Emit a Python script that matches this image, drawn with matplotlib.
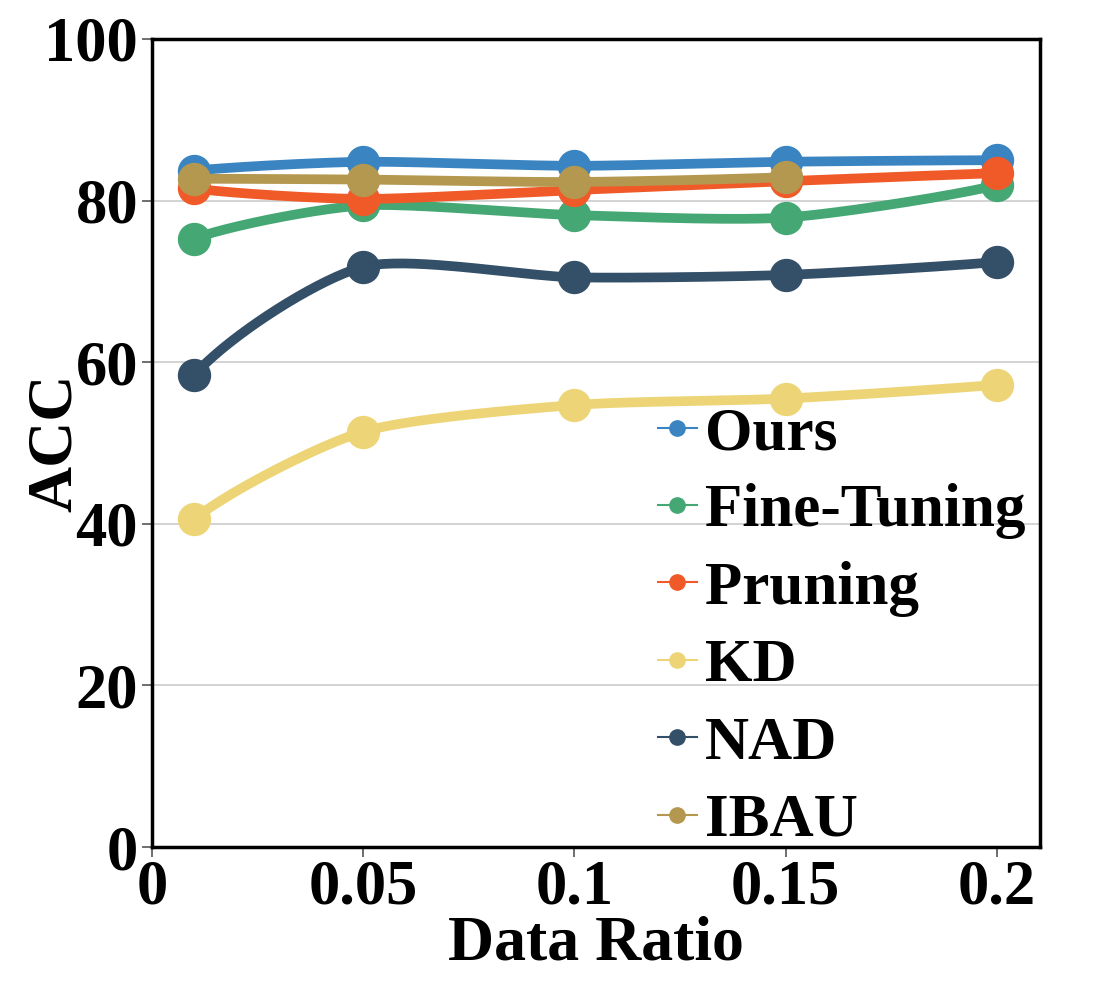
import numpy as np
import matplotlib
matplotlib.use("Agg")
import matplotlib.pyplot as plt

# -------------------------------------------------------------------------
# DATA
# -------------------------------------------------------------------------
ratios = [0.01, 0.05, 0.1, 0.15, 0.2]

acc_ours = [83.7, 84.8, 84.3, 84.8, 85.0]
acc_finetune = [75.3, 79.4, 78.2, 77.9, 81.9]
acc_pruning = [81.5, 80.2, 81.3, 82.4, 83.4]
acc_kd = [40.6, 51.4, 54.7, 55.5, 57.2]
acc_nad = [58.4, 71.8, 70.5, 70.8, 72.4]
acc_ibau = [82.7, 82.6, 82.3, 82.9]

methods = ["Ours", "Fine-Tuning", "Pruning", "KD", "NAD", "IBAU"]
series = [acc_ours, acc_finetune, acc_pruning, acc_kd, acc_nad, acc_ibau]
colors = ["#3a84c1", "#45a874", "#f05a28", "#edd577", "#344f68", "#b5984f"]

x_ticks = [0, 0.05, 0.1, 0.15, 0.2]
x_ticklabels = ["0", "0.05", "0.1", "0.15", "0.2"]
y_ticks = [0, 20, 40, 60, 80, 100]


def smooth(xs, ys, n=40, tension=0.35):
    """Spline through the points, drawing only (quadratic-like end segments)."""
    p = np.column_stack([np.asarray(xs, float), np.asarray(ys, float)])
    k = len(p)
    m = np.zeros_like(p)
    for i in range(1, k - 1):
        m[i] = tension * (p[i + 1] - p[i - 1])
    m[0] = 2 * (p[1] - p[0]) * (2 * tension) - m[1] if k > 2 else p[1] - p[0]
    m[-1] = 2 * (p[-1] - p[-2]) * (2 * tension) - m[-2] if k > 2 else p[1] - p[0]
    t = np.linspace(0, 1, n)[:, None]
    h00 = 2 * t**3 - 3 * t**2 + 1
    h10 = t**3 - 2 * t**2 + t
    h01 = -2 * t**3 + 3 * t**2
    h11 = t**3 - t**2
    segs = [h00 * p[i] + h10 * m[i] + h01 * p[i + 1] + h11 * m[i + 1]
            for i in range(k - 1)]
    c = np.concatenate(segs)
    return c[:, 0], c[:, 1]


plt.rcParams["font.family"] = ["Liberation Serif", "DejaVu Serif"]
plt.rcParams["font.weight"] = "bold"

fig = plt.figure(figsize=(10.93, 9.84), dpi=100)
ax = fig.add_axes([0.139, 0.1392, 0.8125, 0.8212])

for name, vals, col in zip(methods, series, colors):
    xs = ratios[:len(vals)]
    sx, sy = smooth(xs, vals)
    ax.plot(sx, sy, color=col, lw=7, solid_capstyle="round", zorder=3)
    ax.plot(xs, vals, "o", color=col, ms=23, zorder=3)
    # legend proxy
    ax.plot([], [], "-o", color=col, lw=1.5, ms=11, label=name)

ax.set_xlim(0, 0.2102)
ax.set_ylim(0, 100)
ax.set_xticks(x_ticks)
ax.set_xticklabels(x_ticklabels)
ax.set_yticks(y_ticks)
ax.grid(axis="y", color="#cccccc", lw=1.2, zorder=0)
ax.set_axisbelow(True)

for sp in ax.spines.values():
    sp.set_linewidth(2.5)
    sp.set_color("black")

ax.tick_params(axis="both", labelsize=45, length=7, width=1.2, color="#555555")
ax.tick_params(axis="y", pad=3)
ax.tick_params(axis="x", pad=2)
for lab in ax.get_xticklabels() + ax.get_yticklabels():
    lab.set_fontweight("bold")

ax.set_xlabel("Data Ratio", fontsize=46, fontweight="bold")
ax.set_ylabel("ACC", fontsize=46, fontweight="bold")
ax.xaxis.set_label_coords(0.5, -0.085)
ax.yaxis.set_label_coords(-0.0755, 0.5)

leg = ax.legend(loc="lower left", bbox_to_anchor=(0.5625, -0.01), frameon=False,
                prop={"size": 44, "weight": "bold"}, handlelength=0.65,
                handletextpad=0.13, labelspacing=0.35, borderpad=0.1,
                borderaxespad=0.0)

fig.savefig("out.png", dpi=100)
